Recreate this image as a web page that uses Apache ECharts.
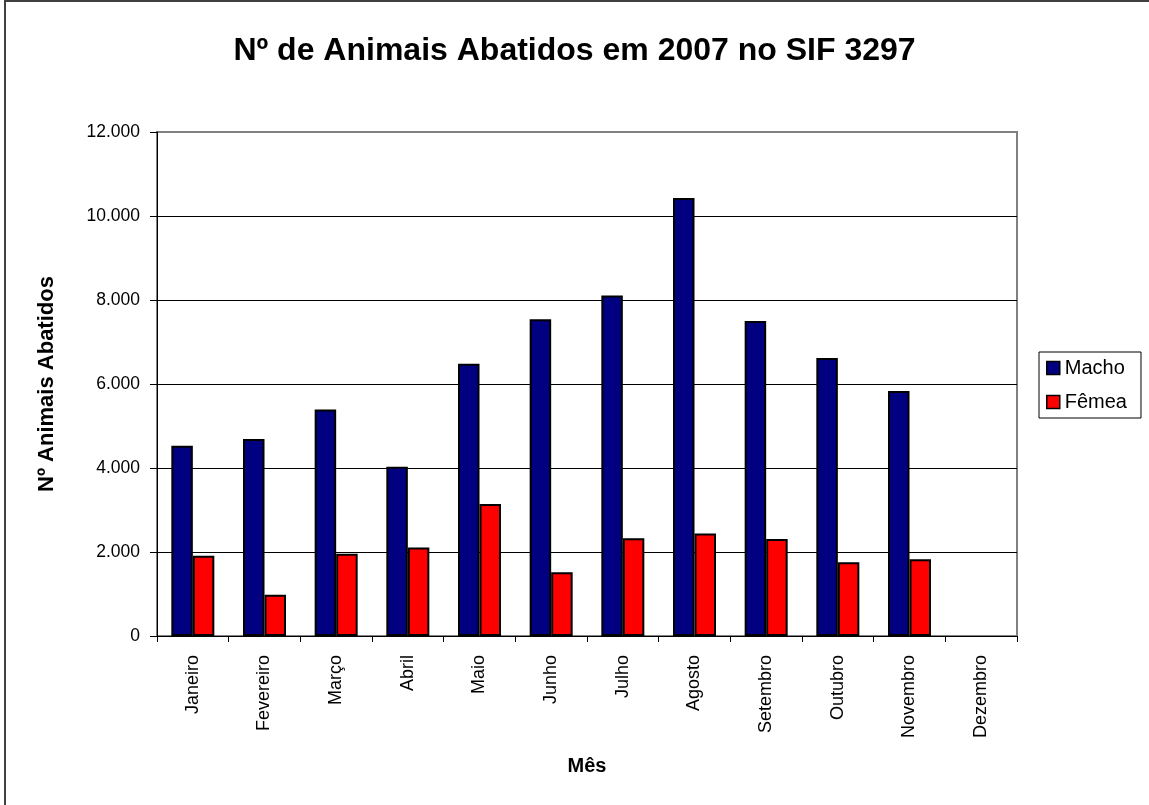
<!DOCTYPE html>
<html>
<head>
<meta charset="utf-8">
<title>Nº de Animais Abatidos em 2007 no SIF 3297</title>
<script src="https://cdn.jsdelivr.net/npm/echarts@6/dist/echarts.min.js"></script>
<style>
  html, body { margin: 0; padding: 0; background: #fff; }
  #chart { width: 1149px; height: 805px; }
</style>
</head>
<body>
<div id="chart"></div>
<script>
// Monthly slaughter counts, 2007
const meses = ['Janeiro', 'Fevereiro', 'Março', 'Abril', 'Maio', 'Junho',
               'Julho', 'Agosto', 'Setembro', 'Outubro', 'Novembro', 'Dezembro'];
const macho = [4530, 4690, 5390, 4030, 6480, 7540, 8110, 10430, 7500, 6620, 5835, null];
const femea = [1910, 980, 1960, 2110, 3140, 1520, 2330, 2440, 2310, 1755, 1825, null];
const seriesNames = ['Macho', 'Fêmea'];
const yTicks = { min: 0, max: 12000, interval: 2000 };

const FONT = '"Liberation Sans", Arial, sans-serif';

function fmtThousands(v) {
  return String(v).replace(/\B(?=(\d{3})+(?!\d))/g, '.');
}

const chart = echarts.init(document.getElementById('chart'), null, { renderer: 'canvas' });

chart.setOption({
  animation: false,
  backgroundColor: '#ffffff',
  textStyle: { fontFamily: FONT },
  title: {
    text: 'Nº de Animais Abatidos em 2007 no SIF 3297',
    left: 'center',
    top: 30,
    textStyle: { fontFamily: FONT, fontSize: 32, fontWeight: 'bold', color: '#000' }
  },
  graphic: [{
    type: 'rect',
    shape: { x: 5, y: 1, width: 1300, height: 1000 },
    style: { fill: null, stroke: '#404040', lineWidth: 2 },
    silent: true,
    z: 100
  }],
  legend: {
    data: seriesNames,
    orient: 'vertical',
    left: 1039,
    top: 352,
    padding: [6, 14, 6, 7],
    itemWidth: 13,
    itemHeight: 13,
    itemGap: 14,
    borderColor: '#000',
    borderWidth: 1,
    icon: 'rect',
    textStyle: { fontFamily: FONT, fontSize: 20, color: '#000' },
    itemStyle: { borderColor: '#000', borderWidth: 1.5 }
  },
  grid: {
    left: 157,
    top: 132,
    width: 860,
    height: 504,
    show: true,
    borderColor: '#808080',
    borderWidth: 2,
    containLabel: false
  },
  xAxis: {
    type: 'category',
    data: meses,
    name: 'Mês',
    nameLocation: 'middle',
    nameGap: 120,
    nameTextStyle: { fontFamily: FONT, fontSize: 20, fontWeight: 'bold', color: '#000' },
    axisLine: { lineStyle: { color: '#000', width: 1 } },
    axisTick: { show: true, length: 6, lineStyle: { color: '#000' } },
    axisLabel: {
      rotate: 90,
      interval: 0,
      margin: 19,
      fontFamily: FONT,
      fontSize: 18,
      color: '#000'
    }
  },
  yAxis: {
    type: 'value',
    min: yTicks.min,
    max: yTicks.max,
    interval: yTicks.interval,
    name: 'Nº Animais Abatidos',
    nameLocation: 'middle',
    nameGap: 99,
    nameRotate: 90,
    nameTextStyle: { fontFamily: FONT, fontSize: 22, fontWeight: 'bold', color: '#000' },
    axisLine: { show: true, lineStyle: { color: '#000', width: 1 } },
    axisTick: { show: true, length: 7, lineStyle: { color: '#000' } },
    axisLabel: {
      margin: 17,
      fontFamily: FONT,
      fontSize: 17.5,
      color: '#000',
      formatter: fmtThousands
    },
    splitLine: {
      show: true,
      lineStyle: {
        color: ['#000', '#000', '#000', '#000', '#000', '#000', '#808080'],
        width: 1
      }
    }
  },
  series: [
    {
      name: seriesNames[0],
      type: 'bar',
      data: macho,
      barGap: '0%',
      barCategoryGap: '40%',
      itemStyle: { color: '#000080', borderColor: '#000', borderWidth: 2 }
    },
    {
      name: seriesNames[1],
      type: 'bar',
      data: femea,
      barGap: '0%',
      barCategoryGap: '40%',
      itemStyle: { color: '#ff0000', borderColor: '#000', borderWidth: 2 }
    }
  ]
});
</script>
</body>
</html>
